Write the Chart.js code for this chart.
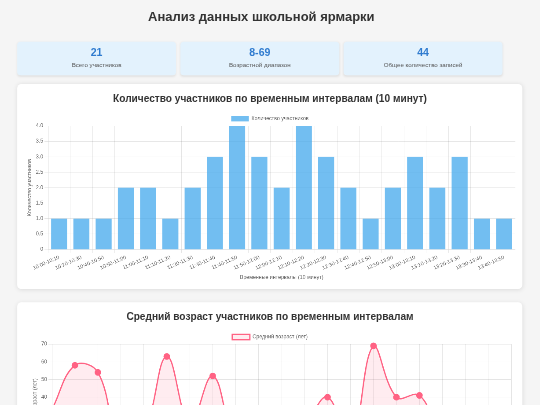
<!DOCTYPE html>
<html lang="ru">
<head>
    <meta charset="UTF-8">
    <meta name="viewport" content="width=device-width, initial-scale=1.0">
    <title>Анализ данных школьной ярмарки</title>
    <script src="https://cdn.jsdelivr.net/npm/chart.js"></script>
    <style>
        html, body { margin: 0; padding: 0; background: #f5f5f5; overflow: hidden; }
        body { font-family: Arial, "Liberation Sans", sans-serif; }
        /* страница сверстана в исходном масштабе и уменьшена целиком */
        #page { width: 1227px; padding-top: 18px; transform: scale(0.44); transform-origin: 0 0; }
        .wrap { margin-left: 39px; width: 1148px; }
        h1 { margin: 0; padding-right: 38px; font-size: 29.5px; line-height: 38.4px; text-align: center; color: #333; }
        .stats { display: grid; grid-template-columns: repeat(3, 361px); gap: 10px; margin-top: 39px; }
        .stat { background: #e3f2fd; border-radius: 8px; height: 76px; box-sizing: border-box; padding-top: 10px; text-align: center; box-shadow: 0 2px 5px rgba(0,0,0,0.08); }
        .stat .num { font-size: 24px; line-height: 28.8px; font-weight: bold; color: #2f7bcf; }
        .stat .lbl { font-size: 14px; line-height: 16.8px; color: #555; margin-top: 5px; }
        .card { background: #fff; border-radius: 10px; box-shadow: 0 2px 10px rgba(0,0,0,0.1); padding: 18px 16px 15px 17px; margin-top: 20px; }
        .card + .card { margin-top: 30px; }
        .card h2 { margin: 0 0 16px; font-size: 23px; line-height: 28.8px; text-align: center; color: #333; }
        .chart-box { position: relative; height: 388px; }
    </style>
</head>
<body>
<div id="page">
    <div class="wrap">
        <h1>Анализ данных школьной ярмарки</h1>

        <div class="stats">
            <div class="stat"><div class="num">21</div><div class="lbl">Всего участников</div></div>
            <div class="stat"><div class="num">8-69</div><div class="lbl">Возрастной диапазон</div></div>
            <div class="stat"><div class="num">44</div><div class="lbl">Общее количество записей</div></div>
        </div>

        <div class="card">
            <h2>Количество участников по временным интервалам (10 минут)</h2>
            <div class="chart-box"><canvas id="countChart"></canvas></div>
        </div>

        <div class="card">
            <h2>Средний возраст участников по временным интервалам</h2>
            <div class="chart-box"><canvas id="ageChart"></canvas></div>
        </div>
    </div>
</div>

<script>
    // интервалы по 10 минут
    const intervals = ['10:00-10:10', '10:20-10:30', '10:40-10:50', '10:50-11:00', '11:00-11:10',
        '11:10-11:20', '11:20-11:30', '11:30-11:40', '11:40-11:50', '11:50-12:00', '12:00-12:10',
        '12:10-12:20', '12:20-12:30', '12:30-12:40', '12:40-12:50', '12:50-13:00', '13:00-13:10',
        '13:10-13:20', '13:20-13:30', '13:30-13:40', '13:40-13:50'];

    // количество участников в каждом интервале
    const participants = [1, 1, 1, 2, 2, 1, 2, 3, 4, 3, 2, 4, 3, 2, 1, 2, 3, 2, 3, 1, 1];

    // средний возраст в каждом интервале
    const avgAge = [33, 58, 54, 12, 20, 63, 25, 52, 15, 10, 18, 25, 40, 14, 69, 40, 41, 20, 30, 8, 22];

    const xTitle = 'Временные интервалы (10 минут)';

    new Chart(document.getElementById('countChart'), {
        type: 'bar',
        data: {
            labels: intervals,
            datasets: [{
                label: 'Количество участников',
                data: participants,
                backgroundColor: 'rgba(54, 162, 235, 0.7)',
                borderWidth: 0
            }]
        },
        options: {
            responsive: true,
            maintainAspectRatio: false,
            animation: false,
            plugins: { legend: { position: 'top' } },
            scales: {
                y: { beginAtZero: true, title: { display: true, text: 'Количество участников' } },
                x: { title: { display: true, text: xTitle } }
            }
        }
    });

    new Chart(document.getElementById('ageChart'), {
        type: 'line',
        data: {
            labels: intervals,
            datasets: [{
                label: 'Средний возраст (лет)',
                data: avgAge,
                borderColor: 'rgba(255, 99, 132, 1)',
                backgroundColor: 'rgba(255, 99, 132, 0.12)',
                borderWidth: 3,
                fill: true,
                tension: 0.4,
                pointRadius: 6,
                pointBackgroundColor: 'rgba(255, 99, 132, 1)'
            }]
        },
        options: {
            responsive: true,
            maintainAspectRatio: false,
            animation: false,
            plugins: { legend: { position: 'top' } },
            scales: {
                y: { beginAtZero: true, title: { display: true, text: 'Средний возраст (лет)' } },
                x: { title: { display: true, text: xTitle } }
            }
        }
    });
</script>
</body>
</html>
